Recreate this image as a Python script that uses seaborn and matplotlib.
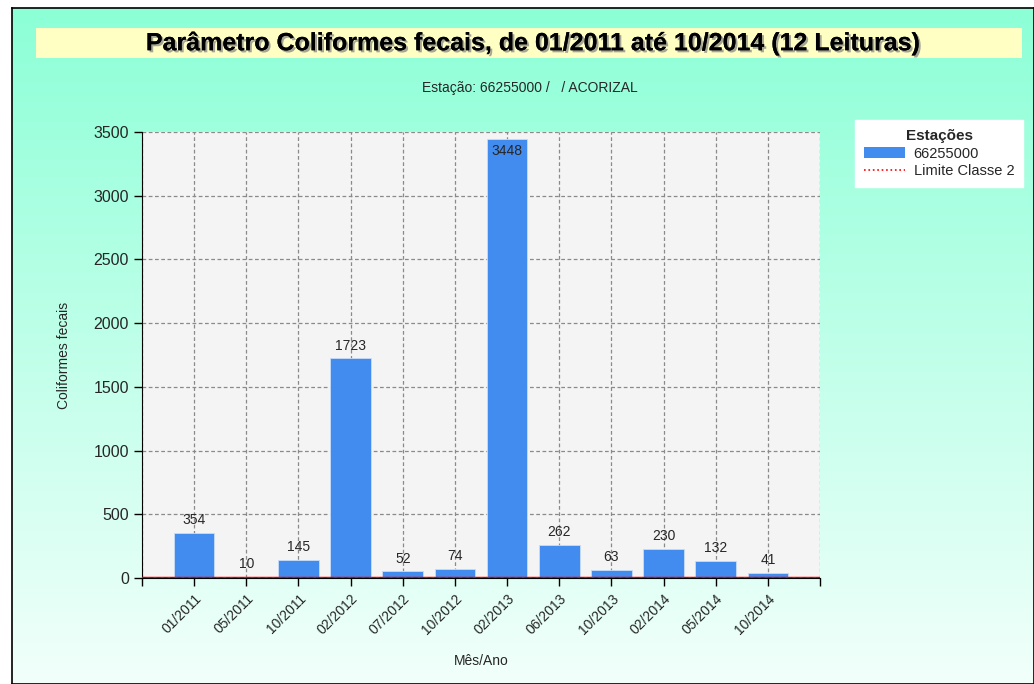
import numpy as np
import pandas as pd
import matplotlib
matplotlib.use("Agg")
import matplotlib.pyplot as plt
import matplotlib.patheffects as pe
from matplotlib.patches import Patch, Rectangle
from matplotlib.lines import Line2D
import seaborn as sns

MESES = ["01/2011", "05/2011", "10/2011", "02/2012", "07/2012", "10/2012",
         "02/2013", "06/2013", "10/2013", "02/2014", "05/2014", "10/2014"]
VALORES = [354, 10, 145, 1723, 52, 74, 3448, 262, 63, 230, 132, 41]
LIMITE = 0
Y_TICKS = [0, 500, 1000, 1500, 2000, 2500, 3000, 3500]

TITULO = "Parâmetro Coliformes fecais, de 01/2011 até 10/2014 (12 Leituras)"
SUBTITULO = "Estação: 66255000 /   / ACORIZAL"

BAR_COLOR = "#418CEE"
FONT = "Liberation Sans"


def main():
    sns.set_style("white")
    plt.rcParams["font.family"] = [FONT, "DejaVu Sans"]

    W, H = 1034, 684
    fig = plt.figure(figsize=(W / 100, H / 100), dpi=100)
    fig.patch.set_facecolor("white")

    # fundo em degradê com borda preta
    bx0, by0 = 12 / W, 0.0
    bw, bh = 1 - bx0, (H - 8) / H
    bg = fig.add_axes([bx0, by0, bw, bh], zorder=-10)
    top = np.array([140, 255, 215]) / 255
    bot = np.array([242, 255, 251]) / 255
    t = np.linspace(0, 1, 256)[:, None]
    grad = (top[None, :] * (1 - t) + bot[None, :] * t)[:, None, :]
    bg.imshow(grad, aspect="auto", extent=[0, 1, 0, 1])
    bg.set_xticks([])
    bg.set_yticks([])
    for s in bg.spines.values():
        s.set_color("black")
        s.set_linewidth(1.2)

    # faixa do título
    fig.patches.append(Rectangle((36 / W, 1 - 58 / H), (1022 - 36) / W, 30 / H,
                                 transform=fig.transFigure, facecolor="#FFFFC4",
                                 edgecolor="none", zorder=1))
    fig.text(0.516, 1 - 43 / H, TITULO, ha="center", va="center", fontsize=18,
             fontweight="bold", color="black", zorder=2,
             path_effects=[pe.withSimplePatchShadow(offset=(1.5, -1.5),
                                                    shadow_rgbFace="gray", alpha=0.7),
                           pe.Normal()])
    fig.text(0.512, 1 - 88 / H, SUBTITULO, ha="center", va="center", fontsize=10)

    # área do gráfico
    ax = fig.add_axes([142 / W, 1 - 578 / H, (820 - 142) / W, (578 - 132) / H])
    ax.set_facecolor("#F4F4F4")
    df = pd.DataFrame({"Mês/Ano": MESES, "Coliformes fecais": VALORES})
    sns.barplot(data=df, x="Mês/Ano", y="Coliformes fecais", color=BAR_COLOR,
                saturation=1, width=0.78, ax=ax, zorder=3,
                edgecolor="#C8DDF8", linewidth=0.6)
    ax.set_ylim(0, 3500)
    for bar, v in zip(ax.containers[0], VALORES):
        x = bar.get_x() + bar.get_width() / 2
        if v > 3300:
            ax.text(x, v - 40, str(v), ha="center", va="top", fontsize=10, zorder=5)
        else:
            ax.text(x, v + 45, str(v), ha="center", va="bottom", fontsize=10, zorder=5)
    ax.axhline(LIMITE, color="red", lw=2.5, zorder=4)
    ax.axhline(LIMITE, color="black", lw=1, ls=(0, (3, 2)), zorder=4)

    ax.set_xlim(-1, 12)
    ax.set_yticks(Y_TICKS)
    ax.set_yticklabels([str(v) for v in Y_TICKS], fontsize=11.5)
    ticks = list(range(-1, 13))
    ax.set_xticks(ticks)
    ax.set_xticklabels([""] + MESES + [""], rotation=45, ha="right",
                       rotation_mode="anchor", fontsize=10)
    ax.tick_params(axis="both", direction="out", length=6, width=1,
                   color="black", left=True, bottom=True)
    ax.grid(True, color="#8A8A8A", ls=(0, (3, 2)), lw=0.9, zorder=0)
    ax.set_axisbelow(True)
    for side in ["top", "right"]:
        ax.spines[side].set_visible(False)
    ax.spines["left"].set_color("black")
    ax.spines["bottom"].set_color("black")

    ax.set_xlabel("Mês/Ano", fontsize=10, labelpad=12)
    ax.set_ylabel("Coliformes fecais", fontsize=10, labelpad=16)

    # legenda
    handles = [Patch(facecolor=BAR_COLOR, edgecolor="none"),
               Line2D([0], [0], color="red", ls=":", lw=1.2)]
    leg = fig.legend(handles, ["66255000", "Limite Classe 2"], title="Estações",
                     loc="upper left", bbox_to_anchor=(848 / W, 1 - 113 / H),
                     frameon=True, fontsize=10.5, title_fontsize=11,
                     handlelength=2.8, borderpad=0.6, labelspacing=0.25,
                     handletextpad=0.6, fancybox=False)
    leg.get_title().set_fontweight("bold")
    leg.get_frame().set_facecolor("white")
    leg.get_frame().set_edgecolor("white")
    leg.get_frame().set_alpha(1)

    fig.savefig("out.png", dpi=100)
    plt.close(fig)


if __name__ == "__main__":
    main()
